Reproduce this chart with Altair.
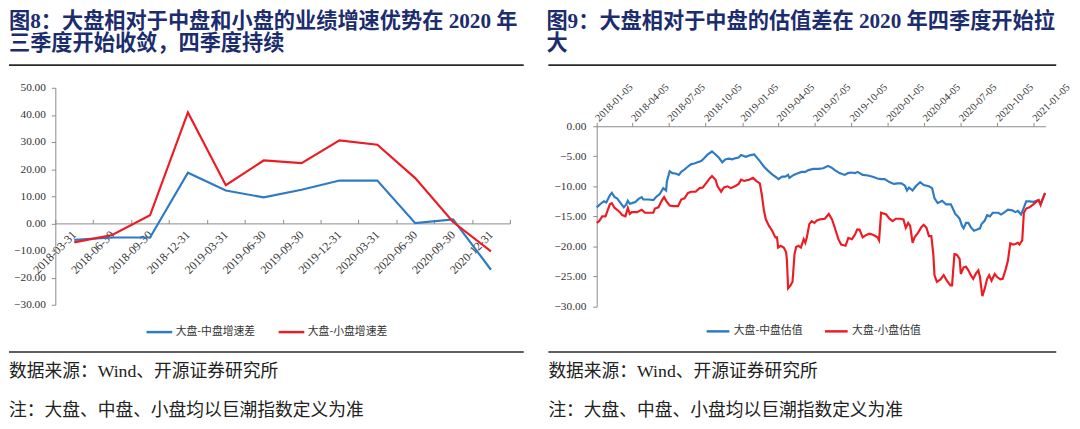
import altair as alt
import pandas as pd

# ---------------- text ----------------
title8_l1 = "图8：大盘相对于中盘和小盘的业绩增速优势在 2020 年"
title8_l2 = "三季度开始收敛，四季度持续"
title9_l1 = "图9：大盘相对于中盘的估值差在 2020 年四季度开始拉"
title9_l2 = "大"
source_txt = "数据来源：Wind、开源证券研究所"
note_txt = "注：大盘、中盘、小盘均以巨潮指数定义为准"

# ---------------- left chart data ----------------
quarters = ["2018-03-31", "2018-06-30", "2018-09-30", "2018-12-31",
            "2019-03-31", "2019-06-30", "2019-09-30", "2019-12-31",
            "2020-03-31", "2020-06-30", "2020-09-30", "2020-12-31"]
growth_mid = [-6.1, -5.2, -5.2, 18.7, 12.1, 9.6, 12.4, 15.8, 15.8, 0.1, 1.5, -17.1]
growth_small = [-7.0, -4.3, 3.0, 40.9, 14.1, 23.2, 22.2, 30.6, 29.0, 16.7, 0.5, -10.3]
series_left = ["大盘-中盘增速差", "大盘-小盘增速差"]
y_ticks_left = [-30, -20, -10, 0, 10, 20, 30, 40, 50]

# ---------------- right chart data (weeks after 2018-01-05, value) ----------------
val_mid_points = [
    (0, -13.5), (1.4, -12.9), (2.6, -12.5), (3.5, -12.7), (4.7, -11.5), (5.5, -11.1),
    (6.4, -11.8), (7.3, -12.0), (8.5, -12.8), (9.7, -13.5), (10.6, -13.0), (11.1, -12.4),
    (11.8, -12.9), (12.6, -12.8), (13.8, -12.6), (15.0, -12.1), (16.2, -11.8), (16.7, -12.2),
    (18.5, -12.2), (20.3, -12.3), (21.5, -11.7), (22.6, -11.3), (23.8, -10.3), (24.8, -10.7),
    (25.2, -9.2), (26.2, -7.5), (27.1, -7.8), (28.5, -7.9), (29.5, -8.1), (30.3, -7.6),
    (31.5, -7.2), (32.7, -6.7), (33.8, -6.3), (35.0, -6.2), (36.2, -6.0), (37.4, -5.8),
    (38.6, -5.3), (39.7, -4.7), (41.3, -4.2), (42.5, -4.7), (43.9, -5.3), (45.0, -6.0),
    (46.2, -5.5), (47.4, -5.4), (48.6, -5.5), (49.8, -5.3), (50.9, -5.2), (51.7, -4.8),
    (53.4, -5.1), (55.2, -4.8), (56.4, -4.7), (57.2, -5.1), (58.4, -5.8), (59.9, -6.7),
    (61.1, -7.3), (62.9, -8.0), (64.6, -8.6), (65.2, -8.8), (66.4, -8.4), (67.6, -8.4),
    (68.5, -8.1), (69.0, -8.6), (70.5, -8.1), (72.3, -7.8), (73.5, -7.6), (74.7, -7.6),
    (75.8, -7.3), (77.6, -7.1), (79.4, -7.1), (81.1, -7.0), (82.9, -6.6), (84.1, -6.9),
    (85.3, -7.3), (87.0, -7.8), (88.8, -8.1), (90.0, -7.8), (91.2, -7.7), (92.6, -7.8),
    (93.5, -7.6), (95.3, -8.1), (97.1, -8.2), (98.8, -8.4), (100.6, -8.7), (101.8, -8.8),
    (103.1, -8.8), (104.8, -9.3), (106.4, -9.6), (107.8, -9.5), (109.2, -9.5), (110.4, -9.9),
    (111.1, -10.7), (111.9, -10.2), (113.1, -10.7), (114.3, -10.0), (115.8, -9.3), (117.2, -9.8),
    (119.0, -10.0), (120.2, -10.3), (121.0, -12.0), (122.2, -12.8), (123.7, -12.4), (125.2, -13.0),
    (126.9, -13.0), (127.6, -13.7), (128.4, -14.6), (129.3, -15.0), (130.0, -15.4), (130.8, -16.6),
    (131.4, -17.0), (132.3, -16.1), (133.2, -16.1), (134.0, -16.8), (135.2, -17.4), (136.3, -17.2),
    (137.3, -17.0), (137.9, -16.3), (139.0, -15.7), (139.9, -14.8), (140.8, -15.0), (141.8, -14.4),
    (142.6, -14.4), (143.8, -14.4), (144.9, -14.7), (146.1, -14.3), (147.3, -13.9), (148.8, -14.0),
    (150.0, -14.3), (150.8, -14.1), (152.0, -14.7), (152.8, -13.7), (153.8, -12.5), (155.0, -12.5),
    (156.4, -12.6), (157.5, -12.4), (158.3, -12.3), (159.0, -12.9), (160.5, -11.2),
]
val_small_points = [
    (0, -16.1), (0.8, -15.8), (2.0, -15.0), (3.2, -15.0), (3.8, -14.1), (4.7, -13.0),
    (5.5, -12.8), (6.4, -13.6), (7.3, -13.9), (8.3, -14.3), (9.1, -14.8), (10.3, -15.0),
    (11.1, -13.6), (11.8, -14.6), (12.6, -14.3), (14.4, -14.3), (16.2, -13.9), (17.3, -14.4),
    (19.1, -14.4), (20.3, -14.4), (20.9, -13.7), (22.1, -13.5), (23.2, -12.5), (24.1, -11.8),
    (25.0, -12.5), (26.2, -13.2), (27.4, -13.3), (29.1, -13.3), (30.3, -12.2), (31.5, -12.0),
    (32.7, -11.1), (33.8, -10.9), (35.4, -10.9), (36.8, -10.3), (38.0, -10.2), (39.2, -9.5),
    (40.3, -8.8), (41.3, -8.3), (42.5, -8.9), (43.3, -10.0), (44.5, -10.9), (45.6, -10.2),
    (46.8, -10.0), (48.0, -10.3), (49.8, -9.9), (50.9, -9.6), (51.7, -8.9), (52.8, -9.1),
    (54.6, -8.9), (56.0, -8.6), (57.2, -9.1), (58.4, -9.5), (59.1, -11.4), (59.9, -13.9),
    (60.5, -15.5), (61.7, -16.6), (62.9, -17.4), (64.0, -18.5), (64.6, -18.5), (65.0, -20.2),
    (65.8, -19.9), (67.0, -20.2), (67.8, -21.0), (68.2, -22.4), (68.5, -27.0), (69.4, -26.5),
    (70.2, -25.9), (70.9, -21.3), (71.4, -20.1), (72.3, -19.9), (73.2, -20.2), (74.1, -18.8),
    (74.7, -19.4), (75.3, -18.5), (76.1, -16.3), (77.0, -15.8), (78.0, -16.1), (78.8, -15.7),
    (80.0, -15.5), (81.7, -15.4), (83.2, -14.6), (84.3, -15.5), (85.3, -16.9), (86.5, -18.8),
    (87.6, -19.7), (89.1, -19.9), (90.2, -18.6), (91.4, -18.8), (92.6, -18.0), (93.3, -17.2),
    (94.1, -17.2), (95.3, -18.5), (96.5, -18.1), (97.7, -17.9), (99.2, -18.1), (100.6, -18.5),
    (101.2, -19.0), (101.8, -14.4), (103.7, -14.7), (104.8, -15.4), (106.0, -15.8), (107.2, -15.4),
    (108.7, -15.4), (109.9, -15.5), (110.7, -16.9), (111.6, -16.1), (112.3, -16.6), (113.1, -19.4),
    (113.9, -18.5), (115.1, -17.7), (116.3, -16.8), (117.2, -16.4), (118.2, -16.9), (119.0, -18.3),
    (119.8, -18.3), (120.5, -21.3), (121.0, -24.8), (121.9, -25.9), (123.1, -25.5), (124.3, -24.8),
    (125.5, -25.7), (126.7, -26.5), (127.3, -26.5), (128.1, -21.3), (129.0, -21.4), (130.0, -22.1),
    (130.4, -24.6), (131.4, -23.5), (132.3, -23.4), (133.2, -24.0), (134.0, -24.8), (134.9, -25.4),
    (135.9, -24.5), (136.7, -24.0), (137.3, -25.1), (138.2, -28.3), (139.0, -27.0), (139.9, -25.4),
    (140.6, -24.8), (141.4, -25.7), (142.6, -24.6), (143.4, -25.1), (144.6, -25.5), (145.5, -25.4),
    (146.5, -23.7), (147.3, -22.4), (148.1, -19.5), (149.1, -19.7), (150.0, -19.6), (150.8, -19.4),
    (151.4, -19.7), (152.4, -19.0), (153.0, -14.4), (153.8, -13.7), (155.0, -13.5), (156.4, -13.0),
    (157.5, -12.6), (158.3, -12.3), (159.0, -13.1), (160.5, -11.1),
]
series_right = ["大盘-中盘估值", "大盘-小盘估值"]
x_ticks_right = ["2018-01-05", "2018-04-05", "2018-07-05", "2018-10-05", "2019-01-05",
                 "2019-04-05", "2019-07-05", "2019-10-05", "2020-01-05", "2020-04-05",
                 "2020-07-05", "2020-10-05", "2021-01-05"]
x_domain_right = ["2018-01-05", "2021-02-03"]
y_ticks_right = [-30, -25, -20, -15, -10, -5, 0]

# ---------------- styles ----------------
BLUE, RED = "#2E7BC3", "#EC1C24"
TITLE_COLOR = "#1C2D6E"
MIX_FONT = "Liberation Serif, Noto Sans CJK SC"
CJK_FONT = "Noto Sans CJK SC"
NUM_FONT = "Liberation Serif"
AX_GREY = "#8a8a8a"
W_L, W_R, H = 536, 526, 413

start = pd.Timestamp("2018-01-05")


def week_dates(points):
    return [(start + pd.Timedelta(days=round(w * 7))).strftime("%Y-%m-%d") for w, _ in points]


def dt(s):
    y, m, d = (int(p) for p in s.split("-"))
    return alt.DateTime(year=y, month=m, date=d, utc=True)


def text_layer(t, x, y, size, bold=False, color="#222"):
    return alt.Chart(pd.DataFrame({"t": [t]})).mark_text(
        align="left", baseline="middle", fontSize=size, font=MIX_FONT,
        fontWeight="bold" if bold else "normal", color=color,
    ).encode(x=alt.value(x), y=alt.value(y), text="t:N")


def hline(x1, x2, y, w=1.6):
    return alt.Chart(pd.DataFrame({"k": [0]})).mark_rule(color="#2a2a2a", strokeWidth=w).encode(
        x=alt.value(x1), x2=alt.value(x2), y=alt.value(y))


AX = dict(labelFont=NUM_FONT, labelColor="#333", domainColor=AX_GREY, tickColor=AX_GREY,
          domainWidth=1, tickWidth=1, grid=False, title=None)

# ---------------- left panel ----------------
left_df = pd.DataFrame({
    "q": quarters * 2,
    "v": growth_mid + growth_small,
    "s": [series_left[0]] * len(quarters) + [series_left[1]] * len(quarters),
})
yL_top, yL_bot = 77, 297
y0_L = yL_bot - 30 / 80 * (yL_bot - yL_top)
xL_scale = alt.Scale(type="band", domain=quarters, range=[47, 508], paddingInner=0, paddingOuter=0)
yL_scale = alt.Scale(domain=[-30, 50], range=[yL_bot, yL_top], nice=False)
yL_enc = alt.Y("v:Q", scale=yL_scale, axis=alt.Axis(
    orient="left", offset=-47, values=y_ticks_left, format=".2f",
    tickSize=4, labelPadding=6, labelFontSize=11.5, **AX))
colorL = alt.Color("s:N", scale=alt.Scale(domain=series_left, range=[BLUE, RED]),
                   legend=alt.Legend(orient="none", legendX=138, legendY=310, direction="horizontal",
                                     title=None, symbolType="stroke", symbolStrokeWidth=2.5,
                                     symbolSize=676, labelFont=CJK_FONT, labelFontSize=11,
                                     labelColor="#333", labelOffset=2, columnPadding=18, padding=0))
baseL = alt.Chart(left_df)
lineL1 = baseL.transform_filter(alt.datum.s == series_left[0]).mark_line(strokeWidth=2.2).encode(
    x=alt.X("q:O", scale=xL_scale, bandPosition=0.5, axis=alt.Axis(
        orient="bottom", offset=-(H - y0_L), labelAngle=-45, labelAlign="right",
        labelBaseline="middle", labelPadding=9, domain=False, ticks=False, tickSize=0,
        labelOverlap=False, labelFontSize=12, **AX)),
    y=yL_enc, color=colorL)
lineL2 = baseL.transform_filter(alt.datum.s == series_left[1]).mark_line(strokeWidth=2.2).encode(
    x=alt.X("q:O", scale=xL_scale, bandPosition=0.5, axis=alt.Axis(
        orient="top", offset=-y0_L, labels=False, tickBand="extent", tickSize=4, **AX)),
    y=yL_enc, color=colorL)

left_panel = alt.layer(
    lineL1, lineL2,
    text_layer(title8_l1, 0, 10, 21.5, True, TITLE_COLOR),
    text_layer(title8_l2, 0, 33, 21.5, True, TITLE_COLOR),
    hline(0, 522, 54),
    hline(0, 522, 345),
    text_layer(source_txt, 0, 365, 18),
    text_layer(note_txt, 0, 405, 18),
).resolve_axis(x="independent").properties(width=W_L, height=H)

# ---------------- right panel ----------------
right_df = pd.DataFrame({
    "d": week_dates(val_mid_points) + week_dates(val_small_points),
    "v": [v for _, v in val_mid_points] + [v for _, v in val_small_points],
    "s": [series_right[0]] * len(val_mid_points) + [series_right[1]] * len(val_small_points),
})
xR_scale = alt.Scale(type="utc", domain=[dt(s) for s in x_domain_right], range=[60, 515], nice=False)
yR_scale = alt.Scale(domain=[-30, 0], range=[298.7, 116], nice=False)
lineR = alt.Chart(right_df).mark_line(strokeWidth=2.2).encode(
    x=alt.X("d:T", scale=xR_scale, axis=alt.Axis(
        orient="top", offset=-116, values=[dt(s) for s in x_ticks_right],
        format="%Y-%m-%d", labelAngle=-45, labelAlign="left", labelBaseline="middle",
        labelPadding=3, tickSize=4, labelOverlap=False, labelFlush=False, labelFontSize=10.5, **AX)),
    y=alt.Y("v:Q", scale=yR_scale, axis=alt.Axis(
        orient="left", offset=-60, values=y_ticks_right, format=".2f",
        tickSize=4, labelPadding=7, labelFontSize=11.5, **AX)),
    color=alt.Color("s:N", scale=alt.Scale(domain=series_right, range=[BLUE, RED]),
                    legend=alt.Legend(orient="none", legendX=170, legendY=311, direction="horizontal",
                                      title=None, symbolType="stroke", symbolStrokeWidth=2.5,
                                      symbolSize=529, labelFont=CJK_FONT, labelFontSize=11,
                                      labelColor="#333", labelOffset=3, columnPadding=17, padding=0)),
    detail="s:N",
)

right_panel = alt.layer(
    lineR,
    text_layer(title9_l1, 9, 10, 21.5, True, TITLE_COLOR),
    text_layer(title9_l2, 9, 33, 21.5, True, TITLE_COLOR),
    hline(11, 526, 54),
    hline(11, 526, 345),
    text_layer(source_txt, 11, 365, 18),
    text_layer(note_txt, 11, 405, 18),
).properties(width=W_R, height=H)

chart = alt.hconcat(left_panel, right_panel, spacing=0, bounds="flush").resolve_scale(
    color="independent", x="independent", y="independent"
).properties(
    padding=0
).configure_view(strokeWidth=0)

chart.save("out.html", embed_options={"renderer": "svg", "actions": False})
